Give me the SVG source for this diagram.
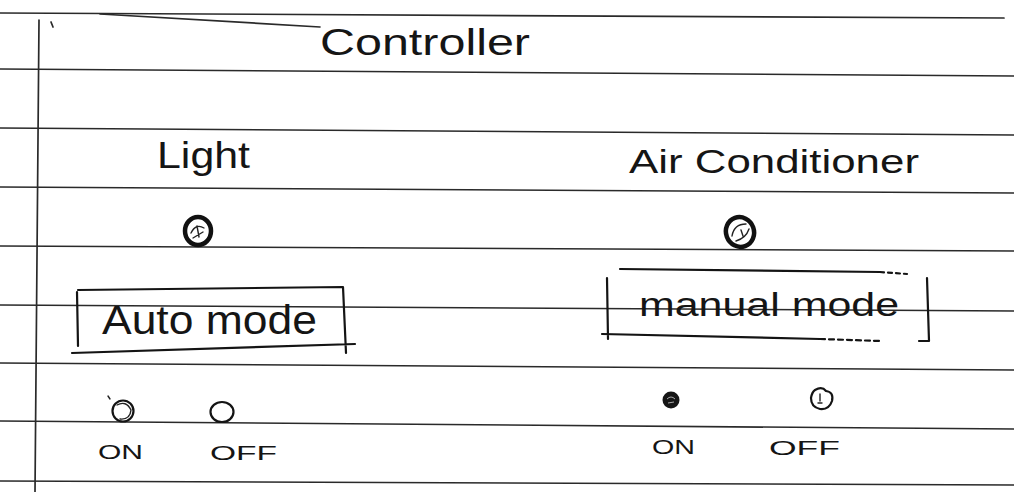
<svg xmlns="http://www.w3.org/2000/svg" width="1014" height="492" viewBox="0 0 1014 492">
<style>
.rule{fill:none;stroke:#2a2a2a;stroke-width:1.7;stroke-linecap:round}
.ink{fill:none;stroke:#141414;stroke-width:2.2;stroke-linecap:round;stroke-linejoin:round}
.dial{fill:none;stroke:#111;stroke-width:4.5}
.scrib{fill:none;stroke:#222;stroke-width:1.4;stroke-linecap:round}
.hand{font-family:"Liberation Sans","DejaVu Sans",sans-serif;fill:#151515}
</style>
<rect width="1014" height="492" fill="#ffffff"/>
<g id="paper">
<path class="rule" d="M0 13 L1004 18" stroke-width="2.6"/>
<path class="rule" d="M0 69 L1014 76"/>
<path class="rule" d="M0 128 L1014 135"/>
<path class="rule" d="M0 187 L1014 193"/>
<path class="rule" d="M0 246 L1014 251"/>
<path class="rule" d="M0 305 L1014 311"/>
<path class="rule" d="M0 363 L1014 370"/>
<path class="rule" d="M0 421 L1014 429"/>
<path class="rule" d="M0 481 L1014 485"/>
<path class="rule" d="M39 20 L35 492" stroke-width="2"/>
<path class="rule" d="M100 14 L320 27"/>
<path class="rule" d="M51 22 L53 27"/>
</g>
<g id="connectors"/>
<g id="title">
<text class="hand" x="320" y="55" font-size="36" textLength="210" lengthAdjust="spacingAndGlyphs">Controller</text>
</g>
<g id="light">
<text class="hand" x="157" y="168" font-size="37" textLength="93" lengthAdjust="spacingAndGlyphs">Light</text>
<ellipse class="dial" cx="198" cy="231" rx="13" ry="14"/>
<path class="scrib" d="M191 233 Q196 223 204 228 M193 238 L203 232 M197 226 L199 237"/>
</g>
<g id="auto-mode">
<path class="ink" d="M78 290 L343 287 L346 353 M77 292 L78 346 M72 353 Q200 349 355 344"/>
<text class="hand" x="102" y="334" font-size="40" textLength="215" lengthAdjust="spacingAndGlyphs">Auto mode</text>
</g>
<g id="light-on">
<circle class="ink" cx="123" cy="411" r="10.5"/>
<path class="scrib" d="M117 405 Q126 400 131 410 Q130 420 120 419 M108 396 L110 399"/>
<text class="hand" x="98" y="459" font-size="21" textLength="45" lengthAdjust="spacingAndGlyphs">ON</text>
</g>
<g id="light-off">
<ellipse class="ink" cx="222" cy="412" rx="11.5" ry="10"/>
<text class="hand" x="210" y="460" font-size="21" textLength="67" lengthAdjust="spacingAndGlyphs">OFF</text>
</g>
<g id="air-conditioner">
<text class="hand" x="629" y="173" font-size="34" textLength="290" lengthAdjust="spacingAndGlyphs">Air Conditioner</text>
<ellipse class="dial" cx="740" cy="232" rx="14" ry="15" transform="rotate(-20 740 232)"/>
<path class="scrib" d="M732 236 Q734 224 746 224 M736 241 Q746 238 749 229 M741 230 L743 236"/>
</g>
<g id="manual-mode">
<path class="ink" d="M620 269 L880 272"/>
<path class="ink" d="M880 272 L907 274" stroke-dasharray="4 4"/>
<path class="ink" d="M607 278 L608 339 M602 334 L820 339"/>
<path class="ink" d="M820 339 L880 341" stroke-dasharray="5 4"/>
<path class="ink" d="M927 278 L929 341 L919 341"/>
<text class="hand" x="639" y="316" font-size="34" textLength="260" lengthAdjust="spacingAndGlyphs">manual mode</text>
</g>
<g id="ac-on">
<circle cx="671" cy="400" r="8.5" fill="#151515"/>
<path d="M667 399 Q671 395 675 399 M668 403 L674 402" fill="none" stroke="#aaa" stroke-width="1"/>
<text class="hand" x="652" y="454" font-size="21" textLength="43" lengthAdjust="spacingAndGlyphs">ON</text>
</g>
<g id="ac-off">
<path class="ink" d="M815 390 Q822 386 826 391 Q834 392 832 401 Q829 410 820 409 Q811 407 811 398 Q812 392 815 390 Z"/>
<path class="scrib" d="M820 394 L820 401 M818 403 L822 403"/>
<text class="hand" x="769" y="455" font-size="21" textLength="71" lengthAdjust="spacingAndGlyphs">OFF</text>
</g>
</svg>
